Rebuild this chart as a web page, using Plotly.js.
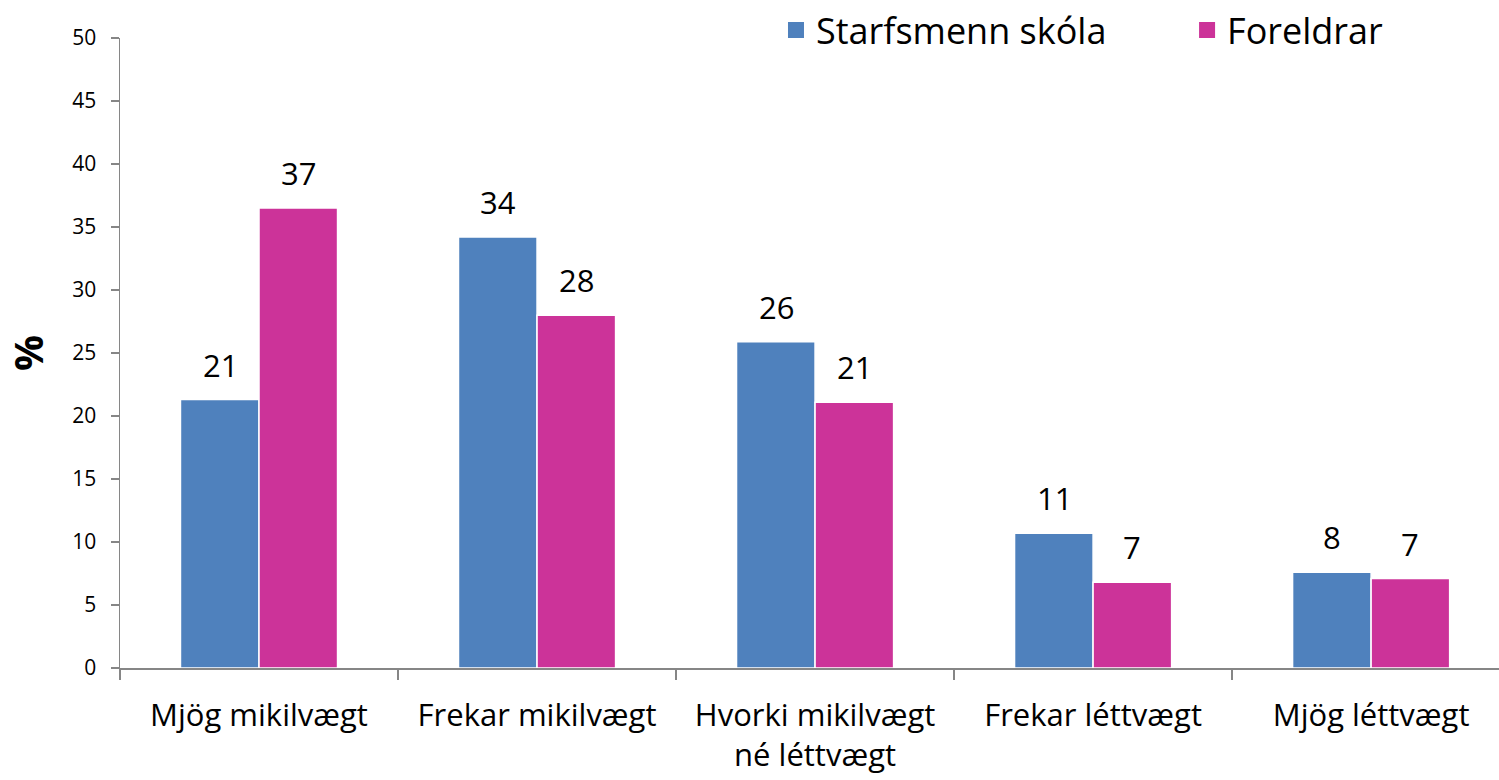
<!DOCTYPE html>
<html>
<head>
<meta charset="utf-8">
<script src="https://cdn.plot.ly/plotly-3.0.1.min.js"></script>
<style>html,body{margin:0;padding:0;background:#fff;}#chart{width:1499px;height:780px;}</style>
</head>
<body>
<div id="chart"></div>
<script>
const categories = ["Mjög mikilvægt", "Frekar mikilvægt", "Hvorki mikilvægt<br>né léttvægt", "Frekar léttvægt", "Mjög léttvægt"];
const staffValues = [21.3, 34.2, 25.9, 10.7, 7.6];
const parentValues = [36.5, 28.0, 21.1, 6.8, 7.1];
const staffLabels = ["21", "34", "26", "11", "8"];
const parentLabels = ["37", "28", "21", "7", "7"];
const seriesNames = ["Starfsmenn skóla", "Foreldrar"];
const yTicks = [0, 5, 10, 15, 20, 25, 30, 35, 40, 45, 50];

const FONT = "Open Sans, Noto Sans, DejaVu Sans, sans-serif";
const blue = "#4F81BD";
const pink = "#CC3399";

const traces = [
  {type: "bar", name: seriesNames[0], x: categories, y: staffValues, showlegend: false,
   marker: {color: blue, line: {color: "#ffffff", width: 1.5}}, hoverinfo: "none"},
  {type: "bar", name: seriesNames[1], x: categories, y: parentValues, showlegend: false,
   marker: {color: pink, line: {color: "#ffffff", width: 1.5}}, hoverinfo: "none"},
  {type: "scatter", mode: "markers", name: seriesNames[0], x: [categories[0]], y: [null],
   legend: "legend", marker: {symbol: "square", size: 18, color: blue}, hoverinfo: "none"},
  {type: "scatter", mode: "markers", name: seriesNames[1], x: [categories[0]], y: [null],
   legend: "legend2", marker: {symbol: "square", size: 18, color: pink}, hoverinfo: "none"}
];

const annotations = [];
categories.forEach((c, i) => {
  annotations.push({x: c, y: staffValues[i], xref: "x", yref: "y", text: staffLabels[i],
    showarrow: false, xshift: -39, yanchor: "bottom", yshift: 12,
    font: {family: FONT, size: 31, color: "#000"}});
  annotations.push({x: c, y: parentValues[i], xref: "x", yref: "y", text: parentLabels[i],
    showarrow: false, xshift: 39, yanchor: "bottom", yshift: 12,
    font: {family: FONT, size: 31, color: "#000"}});
});

const legendBase = {orientation: "h", yanchor: "top", y: 1.06, xanchor: "left",
  font: {family: FONT, size: 36, color: "#000"}, itemwidth: 30,
  bgcolor: "rgba(0,0,0,0)", borderwidth: 0};

const layout = {
  width: 1499, height: 780,
  margin: {l: 120, r: 0, t: 38, b: 112},
  paper_bgcolor: "#fff", plot_bgcolor: "#fff",
  barmode: "group", bargap: 0.435, bargroupgap: 0,
  font: {family: FONT, color: "#000"},
  showlegend: true,
  legend: Object.assign({}, legendBase, {x: 0.4757}),
  legend2: Object.assign({}, legendBase, {x: 0.7738}),
  xaxis: {type: "category", range: [-0.5, 4.46], showline: true, linecolor: "#868686", linewidth: 1.5,
    ticks: "outside", tickson: "boundaries", ticklen: 10, tickcolor: "#868686", tickwidth: 1.5,
    showgrid: false, zeroline: false, fixedrange: true, automargin: false, ticklabelstandoff: 19,
    tickfont: {family: FONT, size: 31, color: "#000"}},
  yaxis: {range: [0, 50], tickvals: yTicks, ticktext: yTicks.map(String), showline: true,
    linecolor: "#868686", linewidth: 1.5, ticks: "outside", ticklen: 8, tickcolor: "#868686", tickwidth: 1.5,
    showgrid: false, zeroline: false, automargin: false, ticklabelstandoff: 10,
    tickfont: {family: FONT, size: 21, color: "#000"},
    title: {text: "<b>%</b>", font: {family: FONT, size: 40, color: "#000"}, standoff: 28}},
  annotations: annotations
};

Plotly.newPlot("chart", traces, layout, {displayModeBar: false, staticPlot: true});
</script>
</body>
</html>
